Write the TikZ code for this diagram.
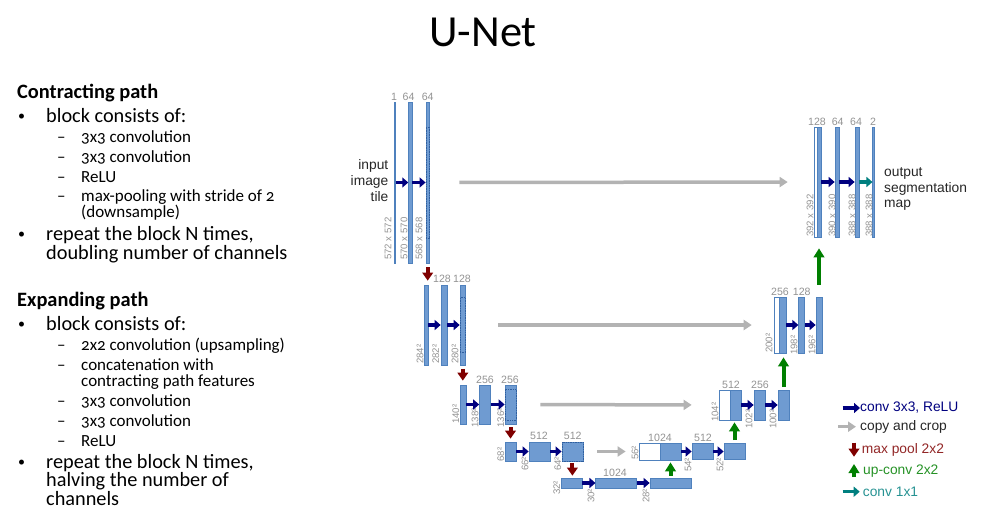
\documentclass[tikz,border=0pt]{standalone}
\usepackage{fontspec}
\setmainfont{Carlito}[Numbers=OldStyle]
\newfontfamily\labfont{Liberation Sans}
\usetikzlibrary{arrows.meta}

\definecolor{blockfill}{HTML}{6F9BD1}
\definecolor{blockline}{HTML}{4F81BD}
\definecolor{cropline}{HTML}{2F5F9F}
\definecolor{labgray}{HTML}{929292}
\definecolor{navyarrow}{HTML}{00007F}
\definecolor{redarrow}{HTML}{7F0000}
\definecolor{greenarrow}{HTML}{007F00}
\definecolor{tealarrow}{HTML}{007F7F}
\definecolor{grayarrow}{HTML}{B3B3B3}

\tikzstyle{block} = [rectangle, inner sep=0pt, fill=blockfill, draw=blockline, line width=0.7pt]
\tikzstyle{concat} = [rectangle, inner sep=0pt, fill=white, draw=blockline, line width=0.7pt]
\tikzstyle{cropbox} = [rectangle, inner sep=0pt, draw=cropline, densely dotted, line width=0.7pt]
\tikzstyle{toplab} = [inner sep=0pt, text=labgray, font=\labfont\fontsize{10.6}{11}\selectfont]
\tikzstyle{sizelab} = [inner sep=0pt, anchor=west, rotate=90, text=labgray, font=\labfont\fontsize{9.6}{10}\selectfont]
\tikzstyle{sidelab} = [inner sep=0pt, text=black!85, font=\labfont\fontsize{13.8}{15.8}\selectfont]
\tikzstyle{keylab} = [inner sep=0pt, anchor=west, font=\labfont\fontsize{13.8}{15}\selectfont]
\tikzstyle{conv} = [navyarrow, line width=3.5pt, -{Triangle[length=6pt,width=10pt]}]
\tikzstyle{copycrop} = [grayarrow, line width=3.5pt, -{Triangle[length=8pt,width=10pt]}]
\tikzstyle{maxpool} = [redarrow, line width=4pt, -{Triangle[length=8pt,width=10.5pt]}]
\tikzstyle{upconv} = [greenarrow, line width=4pt, -{Triangle[length=9pt,width=10.5pt]}]
\tikzstyle{convone} = [tealarrow, line width=3.5pt, -{Triangle[length=6pt,width=10pt]}]
\tikzstyle{heading} = [inner sep=0pt, anchor=base west, font=\fontsize{20.4}{22}\selectfont\bfseries]
\tikzstyle{bigitem} = [inner sep=0pt, anchor=base west, font=\fontsize{20.3}{22}\selectfont]
\tikzstyle{smallitem} = [inner sep=0pt, anchor=base west, font=\fontsize{17}{19}\selectfont]
\tikzstyle{bulletmark} = [inner sep=0pt, anchor=base west, font=\fontsize{14}{16}\selectfont]

\begin{document}
\begin{tikzpicture}[x=1pt,y=-1pt]
  \useasboundingbox (0,0) rectangle (981,527);
  \node (title) [inner sep=0pt, anchor=base, font=\fontsize{44.4}{48}\selectfont] at (483,46) {U-Net};

  %contracting path text
  \node (hcon) [heading] at (17,98.3) {Contracting path};
  \node (bcon1) [bulletmark] at (18,120.7) {•};
  \node (tcon1) [bigitem] at (46,122.7) {block consists of:};
  \node (dcon1) [smallitem] at (57,142.7) {–};
  \node (tcon2) [smallitem] at (81,142.7) {3x3 convolution};
  \node (dcon2) [smallitem] at (57,162.4) {–};
  \node (tcon3) [smallitem] at (81,162.4) {3x3 convolution};
  \node (dcon3) [smallitem] at (57,182) {–};
  \node (tcon4) [smallitem] at (81,182) {ReLU};
  \node (dcon4) [smallitem] at (57,201.5) {–};
  \node (tcon5) [smallitem] at (81,201.5) {max-pooling with stride of 2};
  \node (tcon6) [smallitem] at (81,217) {(downsample)};
  \node (bcon2) [bulletmark] at (18,238.7) {•};
  \node (tcon7) [bigitem] at (46,240.7) {repeat the block N times,};
  \node (tcon8) [bigitem] at (46,259.3) {doubling number of channels};

  %expanding path text
  \node (hexp) [heading] at (17,306.7) {Expanding path};
  \node (bexp1) [bulletmark] at (18,328.7) {•};
  \node (texp1) [bigitem] at (46,330.7) {block consists of:};
  \node (dexp1) [smallitem] at (57,350.7) {–};
  \node (texp2) [smallitem] at (81,350.7) {2x2 convolution (upsampling)};
  \node (dexp2) [smallitem] at (57,370.7) {–};
  \node (texp3) [smallitem] at (81,370.7) {concatenation with};
  \node (texp4) [smallitem] at (81,386) {contracting path features};
  \node (dexp3) [smallitem] at (57,406) {–};
  \node (texp5) [smallitem] at (81,406) {3x3 convolution};
  \node (dexp4) [smallitem] at (57,426) {–};
  \node (texp6) [smallitem] at (81,426) {3x3 convolution};
  \node (dexp5) [smallitem] at (57,446) {–};
  \node (texp7) [smallitem] at (81,446) {ReLU};
  \node (bexp2) [bulletmark] at (18,466.3) {•};
  \node (texp8) [bigitem] at (46,468.3) {repeat the block N times,};
  \node (texp9) [bigitem] at (46,486.7) {halving the number of};
  \node (texp10) [bigitem] at (46,505.7) {channels};

  %blocks, contracting side
  \node (c11) [block, minimum width=1.4pt, minimum height=161pt] at (394.6,182.5) {};
  \node (c12) [block, minimum width=3.4pt, minimum height=161pt] at (410.3,182.5) {};
  \node (c13) [block, minimum width=3.5pt, minimum height=161pt] at (427.7,182.5) {};
  \node (c21) [block, minimum width=3.2pt, minimum height=80pt] at (426.4,325) {};
  \node (c22) [block, minimum width=6pt, minimum height=80pt] at (444,325) {};
  \node (c23) [block, minimum width=5.5pt, minimum height=80pt] at (462.8,325) {};
  \node (c31) [block, minimum width=6pt, minimum height=39pt] at (463,404.5) {};
  \node (c32) [block, minimum width=11pt, minimum height=39pt] at (485,404.5) {};
  \node (c33) [block, minimum width=11pt, minimum height=39pt] at (510.5,404.5) {};
  \node (c41) [block, minimum width=11pt, minimum height=19pt] at (510.5,451.5) {};
  \node (c42) [block, minimum width=21pt, minimum height=19pt] at (539.5,451.5) {};
  \node (c43) [block, minimum width=21pt, minimum height=19pt] at (572.4,451.5) {};
  %blocks, bottom
  \node (c51) [block, minimum width=21pt, minimum height=10pt] at (571.5,483) {};
  \node (c52) [block, minimum width=41pt, minimum height=10pt] at (616.3,483) {};
  \node (c53) [block, minimum width=41pt, minimum height=10pt] at (670.5,483) {};
  %blocks, expanding side
  \node (w61) [concat, minimum width=21pt, minimum height=17pt] at (649.5,451.5) {};
  \node (c61) [block, minimum width=21pt, minimum height=17pt] at (670.5,451.5) {};
  \node (c62) [block, minimum width=21pt, minimum height=16pt] at (702.5,451.5) {};
  \node (c63) [block, minimum width=21pt, minimum height=16pt] at (734.5,451.5) {};
  \node (w71) [concat, minimum width=11pt, minimum height=30pt] at (724.5,405) {};
  \node (c71) [block, minimum width=11pt, minimum height=30pt] at (735.5,405) {};
  \node (c72) [block, minimum width=11pt, minimum height=30pt] at (759.5,405) {};
  \node (c73) [block, minimum width=11pt, minimum height=30pt] at (783.5,405) {};
  \node (w81) [concat, minimum width=5.5pt, minimum height=56pt] at (776.8,325) {};
  \node (c81) [block, minimum width=6.5pt, minimum height=56pt] at (782.8,325) {};
  \node (c82) [block, minimum width=5.8pt, minimum height=56pt] at (801.6,325) {};
  \node (c83) [block, minimum width=6pt, minimum height=56pt] at (819,325) {};
  \node (w91) [concat, minimum width=3pt, minimum height=110pt] at (815.5,182) {};
  \node (c91) [block, minimum width=4pt, minimum height=110pt] at (819,182) {};
  \node (c92) [block, minimum width=4pt, minimum height=110pt] at (837,182) {};
  \node (c93) [block, minimum width=4pt, minimum height=110pt] at (857,182) {};
  \node (c94) [block, minimum width=1.2pt, minimum height=110pt] at (873.4,182) {};
  %cropped parts
  \node (d13) [cropbox, minimum width=3.5pt, minimum height=111pt] at (c13) {};
  \node (d23) [cropbox, minimum width=5.5pt, minimum height=55pt] at (c23) {};
  \node (d33) [cropbox, minimum width=11pt, minimum height=31pt] at (c33) {};
  \node (d43) [cropbox, minimum width=21pt, minimum height=19pt] at (c43) {};

  %numbers above the blocks
  \node (n11) [toplab] at (394,97) {1};
  \node (n12) [toplab] at (408.5,97) {64};
  \node (n13) [toplab] at (427.7,97) {64};
  \node (n22) [toplab] at (442,279) {128};
  \node (n23) [toplab] at (462,279) {128};
  \node (n32) [toplab] at (485,380) {256};
  \node (n33) [toplab] at (510,380) {256};
  \node (n42) [toplab] at (539,436) {512};
  \node (n43) [toplab] at (572.7,436) {512};
  \node (n52) [toplab] at (615,472.7) {1024};
  \node (n61) [toplab] at (660,437.7) {1024};
  \node (n62) [toplab] at (703,437.7) {512};
  \node (n71) [toplab] at (731,385) {512};
  \node (n72) [toplab] at (760,385) {256};
  \node (n81) [toplab] at (780,291.7) {256};
  \node (n82) [toplab] at (801.7,291.7) {128};
  \node (n91) [toplab] at (817,121.7) {128};
  \node (n92) [toplab] at (837.7,121.7) {64};
  \node (n93) [toplab] at (856,121.7) {64};
  \node (n94) [toplab] at (873,121.7) {2};

  %sizes next to the blocks
  \node (s11) [sizelab] at (388,260) {572 x 572};
  \node (s12) [sizelab] at (404,260) {570 x 570};
  \node (s13) [sizelab] at (419,260) {568 x 568};
  \node (s21) [sizelab] at (420,364) {284²};
  \node (s22) [sizelab] at (435.7,364) {282²};
  \node (s23) [sizelab] at (455,364) {280²};
  \node (s31) [sizelab] at (455.7,424) {140²};
  \node (s32) [sizelab] at (475,427.7) {138²};
  \node (s33) [sizelab] at (500.7,427.7) {136²};
  \node (s41) [sizelab] at (500.7,461.7) {68²};
  \node (s42) [sizelab] at (525,471) {66²};
  \node (s43) [sizelab] at (557.7,471) {64²};
  \node (s51) [sizelab] at (556.7,495) {32²};
  \node (s52) [sizelab] at (591,503) {30²};
  \node (s53) [sizelab] at (646,503) {28²};
  \node (s61) [sizelab] at (635,460) {56²};
  \node (s62) [sizelab] at (688,472) {54²};
  \node (s63) [sizelab] at (720,472) {52²};
  \node (s71) [sizelab] at (715,422) {104²};
  \node (s72) [sizelab] at (749,429) {102²};
  \node (s73) [sizelab] at (773,429) {100²};
  \node (s81) [sizelab] at (769,353) {200²};
  \node (s82) [sizelab] at (794,355) {198²};
  \node (s83) [sizelab] at (812,355) {196²};
  \node (s91) [sizelab] at (810,237) {392 x 392};
  \node (s92) [sizelab] at (832,237) {390 x 390};
  \node (s93) [sizelab] at (852,237) {388 x 388};
  \node (s94) [sizelab] at (869,237) {388 x 388};

  %side labels
  \node (inlab) [sidelab, anchor=east, align=right] at (388.5,180.7) {input\\image\\tile};
  \node (outlab) [sidelab, anchor=west, align=left] at (884,189) {output\\segmentation\\map};

  %connections
  % conv 3x3
  \draw [conv] (c11) -- (c12);
  \draw [conv] (c12) -- (c13);
  \draw [conv] (c21) -- (c22);
  \draw [conv] (c22) -- (c23);
  \draw [conv] (c31) -- (c32);
  \draw [conv] (c32) -- (c33);
  \draw [conv] (c41) -- (c42);
  \draw [conv] (c42) -- (c43);
  \draw [conv] (c51) -- (c52);
  \draw [conv] (c52) -- (c53);
  \draw [conv] (c61) -- (c62);
  \draw [conv] (c62) -- (c63);
  \draw [conv] (c71) -- (c72);
  \draw [conv] (c72) -- (c73);
  \draw [conv] (c81) -- (c82);
  \draw [conv] (c82) -- (c83);
  \draw [conv] (c91) -- (c92);
  \draw [conv] (c92) -- (c93);
  \draw [convone] (c93) -- (c94);
  % copy and crop
  \draw [copycrop, shorten <=29.5pt, shorten >=26pt] (c13) -- (w91);
  \draw [copycrop, shorten <=32.5pt, shorten >=22pt] (c23) -- (w81);
  \draw [copycrop, shorten <=24pt, shorten >=27pt] (c33) -- (w71);
  \draw [copycrop, shorten <=14pt, shorten >=13pt] (c43) -- (w61);
  % max pool
  \draw [maxpool, shorten <=4pt, shorten >=4pt] (c13) -- (c13 |- c21.north);
  \draw [maxpool, shorten <=3.5pt, shorten >=4pt] (c23) -- (c23 |- c31.north);
  \draw [maxpool, shorten <=3pt, shorten >=3pt] (c33) -- (c41);
  \draw [maxpool, shorten <=2pt, shorten >=2pt] (c43) -- (c43 |- c51.north);
  % up-conv
  \draw [upconv, shorten <=2pt, shorten >=2pt] (c53) -- (c61);
  \draw [upconv, shorten <=3pt, shorten >=2pt] (c63.north) -- (c63.north |- c71.south);
  \draw [upconv, shorten <=2.5pt, shorten >=4pt] (c73.north) -- (c73.north |- c81.south);
  \draw [upconv, shorten <=12pt, shorten >=11pt] (c83.north) -- (c83.north |- c91.south);

  %legend
  \node (kconv) [keylab, text=navyarrow] at (860,408) {conv 3x3, ReLU};
  \node (kcopy) [keylab, text=black!85] at (860,426.7) {copy and crop};
  \node (kpool) [keylab, text=redarrow!85] at (861.7,449.5) {max pool 2x2};
  \node (kup) [keylab, text=greenarrow!85] at (863,470.7) {up-conv 2x2};
  \node (kone) [keylab, text=tealarrow!85] at (862.7,491.7) {conv 1x1};
  \coordinate (aconv) at (842.7,408);
  \coordinate (acopy) at (838,426.7);
  \coordinate (apool) at (854,442.7);
  \coordinate (epool) at (854,456.7);
  \coordinate (aup) at (854,477);
  \coordinate (eup) at (854,464);
  \coordinate (aone) at (842.7,491.7);
  \draw [conv] (aconv) -- (kconv);
  \draw [copycrop, shorten >=4pt] (acopy) -- (kcopy);
  \draw [maxpool] (apool) -- (epool);
  \draw [upconv] (aup) -- (eup);
  \draw [convone, shorten >=3pt] (aone) -- (kone);
\end{tikzpicture}
\end{document}
